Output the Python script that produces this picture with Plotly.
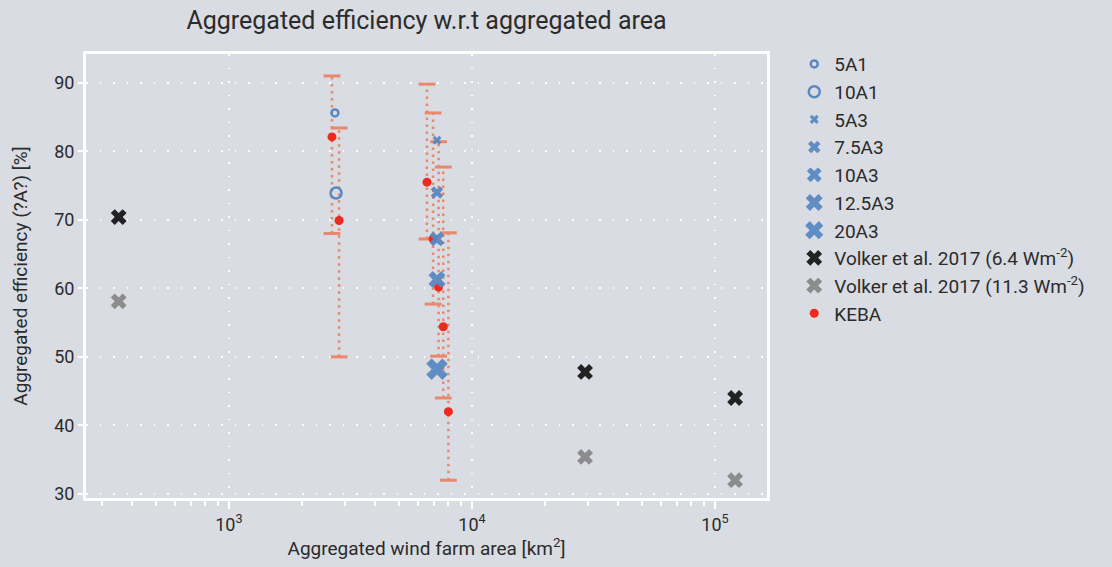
import plotly.graph_objects as go

# ---- data ----
a1_labels = ["5A1", "10A1"]
a1_x = [2730, 2760]
a1_y = [85.6, 73.9]
a1_size = [7, 11]

a3_labels = ["5A3", "7.5A3", "10A3", "12.5A3", "20A3"]
a3_x = [7180, 7180, 7180, 7180, 7180]
a3_y = [81.6, 74.0, 67.2, 61.3, 48.2]
a3_size = [8, 11, 13, 15, 19]

volker_x = [352, 29200, 121000]
volker64_y = [70.4, 47.8, 44.0]
volker113_y = [58.1, 35.4, 32.0]

keba_x = [2655, 2840, 6530, 6920, 7290, 7620, 8000]
keba_y = [82.1, 69.9, 75.5, 67.2, 60.2, 54.4, 42.0]
keba_lo = [68.0, 50.0, 67.2, 57.7, 50.1, 44.0, 32.0]
keba_hi = [91.0, 83.4, 89.8, 85.6, 81.4, 77.7, 68.1]

blue = "#5A88C2"
red = "#EE2A1E"
salmon = "#E9886C"
bg = "#D9DCE2"
txt = "#2B2B2B"
font_family = "Roboto"

fig = go.Figure()

# error bars: dotted vertical lines
ex, ey = [], []
for x, lo, hi in zip(keba_x, keba_lo, keba_hi):
    ex += [x, x, None]
    ey += [lo, hi, None]
fig.add_trace(go.Scatter(x=ex, y=ey, mode="lines", showlegend=False, hoverinfo="skip",
                         line=dict(color=salmon, width=2.5, dash="2.5px,4.5px")))
# caps
fig.add_trace(go.Scatter(x=keba_x + keba_x, y=keba_lo + keba_hi, mode="markers", showlegend=False,
                         hoverinfo="skip",
                         marker=dict(symbol="line-ew", size=12, color=salmon,
                                     line=dict(color=salmon, width=3))))

# KEBA points
fig.add_trace(go.Scatter(x=keba_x, y=keba_y, mode="markers", name="KEBA", legendrank=10,
                         marker=dict(symbol="circle", size=9, color=red)))

# A1 markers
for i, (lab, x, y, s) in enumerate(zip(a1_labels, a1_x, a1_y, a1_size)):
    fig.add_trace(go.Scatter(x=[x], y=[y], mode="markers", name=lab, legendrank=1 + i,
                             marker=dict(symbol="circle-open", size=s, color=blue,
                                         line=dict(color=blue, width=2.5))))
# A3 markers
for i, (lab, x, y, s) in enumerate(zip(a3_labels, a3_x, a3_y, a3_size)):
    fig.add_trace(go.Scatter(x=[x], y=[y], mode="markers", name=lab, legendrank=3 + i,
                             marker=dict(symbol="x", size=s, color=blue, opacity=0.95,
                                         line=dict(width=0))))

fig.add_trace(go.Scatter(x=volker_x, y=volker64_y, mode="markers", legendrank=8,
                         name="Volker et al. 2017 (6.4 Wm<sup>-2</sup>)",
                         marker=dict(symbol="x", size=14, color="#222222", line=dict(width=0))))
fig.add_trace(go.Scatter(x=volker_x, y=volker113_y, mode="markers", legendrank=9,
                         name="Volker et al. 2017 (11.3 Wm<sup>-2</sup>)",
                         marker=dict(symbol="x", size=14, color="#8C8C8C", line=dict(width=0))))

legend = dict(x=1.04, y=1.02, xanchor="left", yanchor="top", bgcolor="rgba(0,0,0,0)",
              font=dict(size=19, color=txt), tracegroupgap=0, itemsizing="trace")

fig.update_layout(
    width=1112, height=567,
    paper_bgcolor=bg, plot_bgcolor=bg,
    margin=dict(l=86, r=345, t=54, b=69),
    font=dict(family=font_family, color=txt, size=18),
    title=dict(text="Aggregated efficiency w.r.t aggregated area", x=0.5, xref="paper",
               xanchor="center", y=0.965, yanchor="middle",
               font=dict(size=25, color=txt, family=font_family)),
    legend=legend,
    showlegend=True,
)
try:
    fig.update_layout(legend_maxheight=540)
except Exception:
    pass

fig.update_xaxes(
    type="log", range=[2.412, 5.214],
    tickvals=[1e3, 1e4, 1e5], ticktext=["10<sup>3</sup>", "10<sup>4</sup>", "10<sup>5</sup>"],
    ticks="outside", ticklen=8, tickwidth=2, tickcolor="white",
    minor=dict(ticks="outside", ticklen=5, tickwidth=1.5, tickcolor="white", dtick="D1", showgrid=False),
    showgrid=True, gridcolor="white", gridwidth=1.5, griddash="1.5px,12px",
    showline=True, linecolor="white", linewidth=3, mirror=True,
    zeroline=False, tickfont=dict(size=18, color=txt),
    title=dict(text="Aggregated wind farm area [km<sup>2</sup>]", font=dict(size=19, color=txt), standoff=8),
)
fig.update_yaxes(
    range=[29.4, 94.2], tickvals=[30, 40, 50, 60, 70, 80, 90],
    ticks="outside", ticklen=5, tickwidth=2, tickcolor="white",
    showgrid=True, gridcolor="white", gridwidth=1.5, griddash="1.5px,12px",
    showline=True, linecolor="white", linewidth=3, mirror=True,
    zeroline=False, tickfont=dict(size=18, color=txt),
    title=dict(text="Aggregated efficiency (?A?) [%]", font=dict(size=19, color=txt), standoff=22),
)

fig.write_html("out.html")
